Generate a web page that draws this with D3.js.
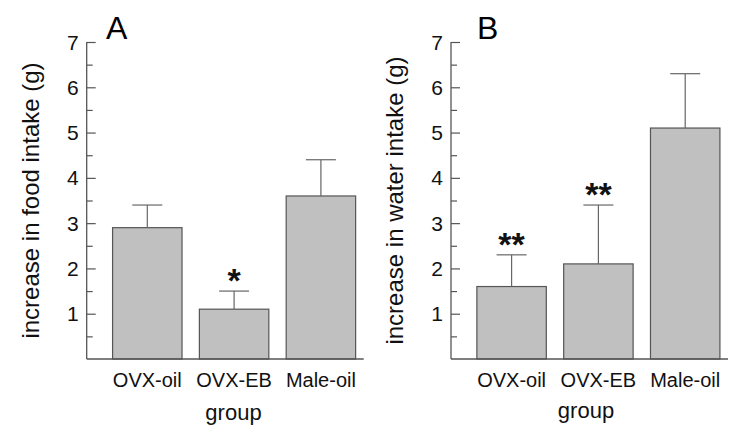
<!DOCTYPE html>
<html>
<head>
<meta charset="utf-8">
<script src="https://cdn.jsdelivr.net/npm/d3@7"></script>
<style>
  html, body { margin: 0; padding: 0; background: #fff; }
  svg { display: block; font-family: Arial, "Liberation Sans", Helvetica, sans-serif; }
</style>
</head>
<body>
<svg id="chart" width="750" height="442"></svg>
<script>
const categories = ["OVX-oil", "OVX-EB", "Male-oil"];
const foodMeans = [2.9, 1.1, 3.6];
const foodErrors = [0.5, 0.4, 0.8];
const foodSig = ["", "*", ""];
const waterMeans = [1.6, 2.1, 5.1];
const waterErrors = [0.7, 1.3, 1.2];
const waterSig = ["**", "**", ""];
const yTickValues = [1, 2, 3, 4, 5, 6, 7];
const yMinorTicks = [0.5, 1.5, 2.5, 3.5, 4.5, 5.5, 6.5];

const svg = d3.select("#chart");

const panels = [
  { letter: "A", means: foodMeans, errors: foodErrors, sig: foodSig,
    title: "increase in food intake (g)", x0: 86.7, titleX: 38.5, letterX: 106, letterY: 38.5,
    groupX: 233.5, groupY: 420 },
  { letter: "B", means: waterMeans, errors: waterErrors, sig: waterSig,
    title: "increase in water intake (g)", x0: 451, titleX: 402.5, letterX: 477, letterY: 39,
    groupX: 586, groupY: 418 }
];

const yTop = 42, yBottom = 359;
const y = d3.scaleLinear().domain([0, 7]).range([yBottom, yTop]);
const axisColor = "#555";

panels.forEach(p => {
  const g = svg.append("g");
  const x = d3.scaleBand().domain(categories)
    .range([p.x0 + 17.2, p.x0 + 17.2 + 260.4])
    .paddingInner(0.2).paddingOuter(0.1);

  // bars
  g.selectAll("rect.bar").data(categories).enter().append("rect")
    .attr("x", d => x(d))
    .attr("y", (d, i) => y(p.means[i]))
    .attr("width", x.bandwidth())
    .attr("height", (d, i) => y(0) - y(p.means[i]))
    .attr("fill", "#c0c0c0")
    .attr("stroke", "#555")
    .attr("stroke-width", 1.2);

  // error bars
  const capW = 30;
  categories.forEach((c, i) => {
    const cx = x(c) + x.bandwidth() / 2;
    const top = y(p.means[i] + p.errors[i]);
    g.append("line").attr("x1", cx).attr("x2", cx)
      .attr("y1", y(p.means[i])).attr("y2", top)
      .attr("stroke", "#666").attr("stroke-width", 1.2);
    g.append("line").attr("x1", cx - capW / 2).attr("x2", cx + capW / 2)
      .attr("y1", top).attr("y2", top)
      .attr("stroke", "#666").attr("stroke-width", 1.2);
    if (p.sig[i]) {
      g.append("text").attr("x", cx).attr("y", top + 1)
        .attr("text-anchor", "middle")
        .attr("font-size", 34).attr("font-weight", "bold")
        .attr("fill", "#111")
        .text(p.sig[i]);
    }
  });

  // y axis
  const yAxis = d3.axisRight(y).tickValues(yTickValues).tickSize(9).tickFormat("");
  const ya = g.append("g").attr("transform", `translate(${p.x0},0)`).call(yAxis);
  ya.select(".domain").remove();
  ya.selectAll("line").attr("stroke", axisColor).attr("stroke-width", 1.2);
  const yMinor = d3.axisRight(y).tickValues(yMinorTicks).tickSize(6).tickFormat("");
  const ym = g.append("g").attr("transform", `translate(${p.x0},0)`).call(yMinor);
  ym.select(".domain").remove();
  ym.selectAll("line").attr("stroke", axisColor).attr("stroke-width", 1.2);

  g.append("line").attr("x1", p.x0).attr("x2", p.x0)
    .attr("y1", y(7)).attr("y2", y(0))
    .attr("stroke", axisColor).attr("stroke-width", 1.3);
  g.append("line").attr("x1", p.x0).attr("x2", p.x0 + 277)
    .attr("y1", y(0)).attr("y2", y(0))
    .attr("stroke", axisColor).attr("stroke-width", 1.3);

  // tick labels
  g.selectAll("text.ytl").data(yTickValues).enter().append("text")
    .attr("x", p.x0 - 8).attr("y", d => y(d) + 7.5)
    .attr("text-anchor", "end")
    .attr("font-size", 21).attr("fill", "#111")
    .text(d => d);

  // category labels
  g.selectAll("text.cat").data(categories).enter().append("text")
    .attr("x", d => x(d) + x.bandwidth() / 2).attr("y", 387)
    .attr("text-anchor", "middle")
    .attr("font-size", 20).attr("fill", "#111")
    .text(d => d);

  // x title
  g.append("text").attr("x", p.groupX).attr("y", p.groupY)
    .attr("text-anchor", "middle").attr("font-size", 22).attr("fill", "#111")
    .text("group");

  // y title
  g.append("text")
    .attr("transform", `translate(${p.titleX},${(yTop + yBottom) / 2}) rotate(-90)`)
    .attr("text-anchor", "middle").attr("font-size", 24).attr("fill", "#111")
    .text(p.title);

  // panel letter
  g.append("text").attr("x", p.letterX).attr("y", p.letterY)
    .attr("font-size", 32).attr("fill", "#000")
    .text(p.letter);
});
</script>
</body>
</html>
